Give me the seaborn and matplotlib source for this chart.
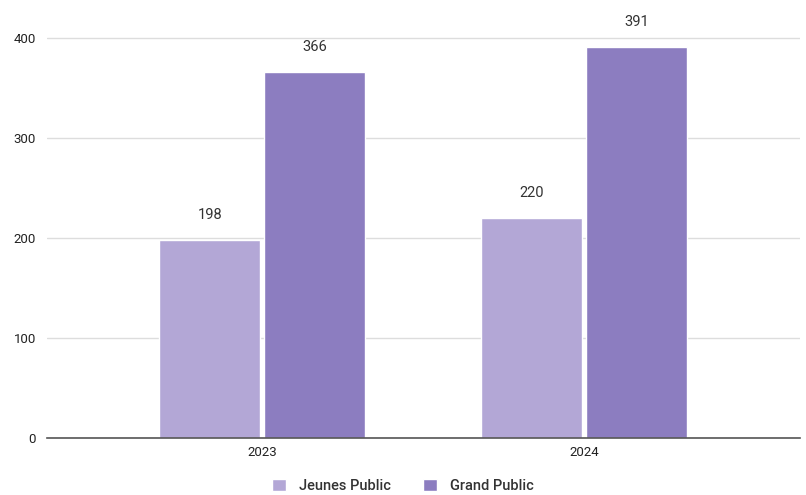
import numpy as np
import pandas as pd
import matplotlib.pyplot as plt
import seaborn as sns

years = ['2023', '2024']
jeunes = [198, 220]
grand = [366, 391]
series = ['Jeunes Public', 'Grand Public']
colors = ['#b3a7d6', '#8c7dc0']

df = pd.DataFrame({
    'Year': years * 2,
    'Value': jeunes + grand,
    'Serie': [series[0]] * 2 + [series[1]] * 2,
})

sns.set_style('white')
plt.rcParams['font.family'] = ['Roboto', 'DejaVu Sans']

fig = plt.figure(figsize=(8.06, 4.95), dpi=100)
ax = fig.add_axes([47 / 806, 57 / 495, 753 / 806, 420 / 495])

sns.barplot(df, x='Year', y='Value', hue='Serie', palette=colors, saturation=1,
            width=0.65, gap=0.03, ax=ax, legend=True)

for c in ax.containers:
    ax.bar_label(c, padding=13, fontsize=10.5, color='#333333')

ax.set_ylim(0, 420)
ax.set_xlim(-0.668, 1.671)
ax.set_yticks([0, 100, 200, 300, 400])
ax.grid(axis='y', color='#dddddd', linewidth=1)
ax.set_axisbelow(True)
for s in ['top', 'right', 'left']:
    ax.spines[s].set_visible(False)
ax.spines['bottom'].set_color('#555555')
ax.spines['bottom'].set_linewidth(1.2)
ax.tick_params(axis='both', length=0, labelsize=9.5, colors='#222222', pad=8)
ax.tick_params(axis='x', pad=6)
ax.set_xlabel('')
ax.set_ylabel('')

leg = ax.legend(loc='center', bbox_to_anchor=(0.5, 9 / 495), bbox_transform=fig.transFigure,
                ncol=2, frameon=False, borderpad=0, borderaxespad=0,
                fontsize=10.5, handlelength=0.95, handleheight=0.95, columnspacing=2.2,
                handletextpad=0.9)
for t in leg.get_texts():
    t.set_fontweight('medium')
    t.set_color('#333333')

fig.savefig('out.png', dpi=100)
